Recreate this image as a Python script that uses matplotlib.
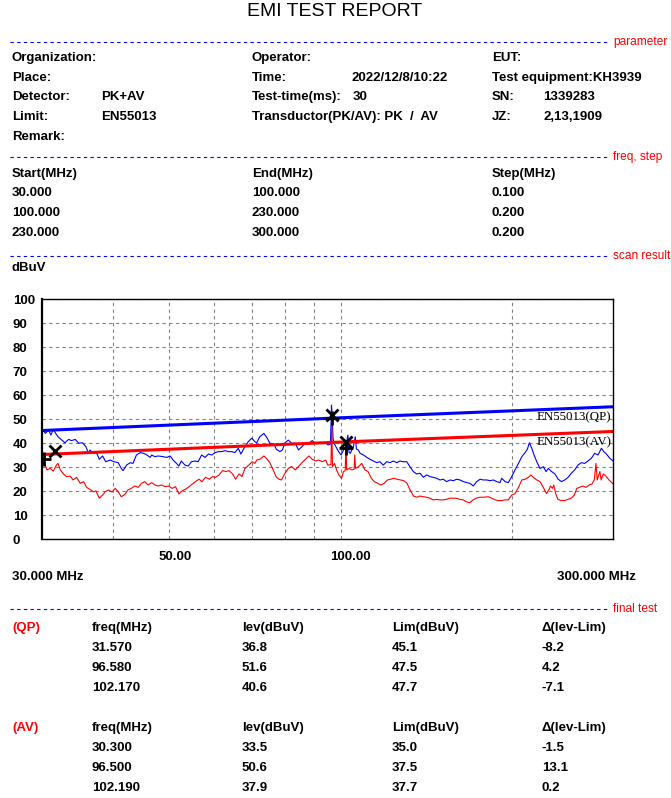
import matplotlib.pyplot as plt
from matplotlib.lines import Line2D
from matplotlib.transforms import ScaledTranslation, blended_transform_factory
from matplotlib.ticker import NullLocator

plt.rcParams['font.family'] = ['Liberation Sans', 'DejaVu Sans']

W, H = 671, 798

# scan result, peak trace (MHz, dBuV)
pk_freq = [30.0, 30.1, 30.4, 30.8, 31.1, 31.4, 31.7, 32.0, 32.5, 32.9, 33.4, 33.8, 34.3, 34.8, 35.3,
           35.8, 36.2, 36.4, 36.9, 37.4, 37.8, 38.3, 38.8, 39.5, 40.1, 40.8, 41.3, 41.6, 42.2, 42.8,
           43.3, 43.9, 44.6, 45.2, 45.8, 46.4, 46.7, 47.3, 47.9, 48.9, 49.6, 50.3, 50.9, 51.6, 52.1,
           52.6, 53.4, 54.1, 54.8, 55.6, 56.3, 57.1, 57.9, 58.7, 59.5, 60.3, 61.1, 61.9, 62.8, 63.6,
           64.5, 65.3, 66.2, 66.9, 68.0, 68.9, 69.9, 70.8, 71.3, 72.2, 73.4, 74.4, 75.2, 76.4, 77.2,
           78.3, 79.1, 79.9, 81.0, 82.1, 83.3, 84.4, 85.6, 86.8, 88.0, 89.2, 90.4, 91.6, 92.9, 94.2,
           95.0, 96.0, 96.4, 96.7, 97.0, 97.4, 98.1, 99.2, 100.2, 101.2, 102.1, 103.0, 103.5, 104.0,
           105.3, 106.1, 106.6, 107.4, 108.2, 109.7, 111.2, 112.6, 114.1, 115.7, 117.2, 118.8, 120.4,
           122.1, 123.7, 125.4, 127.1, 128.8, 130.6, 132.3, 134.1, 135.9, 137.8, 139.6, 141.5, 143.4,
           145.3, 147.3, 149.3, 151.3, 153.4, 155.5, 157.6, 159.7, 161.9, 164.1, 166.3, 168.5, 170.8,
           173.1, 175.5, 177.8, 180.3, 182.7, 185.2, 187.7, 190.2, 191.5, 194.1, 196.7, 199.4, 202.1,
           204.9, 207.7, 210.5, 212.4, 214.1, 216.2, 218.2, 220.6, 223.5, 226.5, 229.0, 231.1, 234.2,
           237.4, 240.5, 243.7, 247.0, 250.3, 253.6, 257.1, 260.5, 264.0, 267.6, 271.2, 274.9, 278.6,
           282.4, 286.3, 289.0, 292.1, 296.3, 300.0]
pk_lev = [46.0, 45.7, 44.0, 45.4, 43.3, 45.7, 44.0, 42.6, 41.2, 40.1, 41.5, 41.0, 41.5, 39.9, 40.1,
          38.5, 35.7, 37.1, 35.7, 35.8, 33.2, 34.6, 32.2, 32.9, 32.2, 31.8, 29.4, 28.5, 30.8, 31.8,
          31.5, 35.0, 36.0, 35.7, 35.0, 34.0, 35.0, 34.3, 34.6, 34.3, 34.0, 34.6, 32.9, 31.5, 30.4,
          32.5, 30.8, 30.4, 32.2, 32.5, 32.2, 35.0, 34.0, 35.4, 35.0, 36.0, 36.4, 36.4, 36.8, 36.4,
          36.4, 36.0, 37.8, 35.4, 38.5, 40.5, 42.0, 40.5, 40.1, 42.6, 44.0, 42.0, 39.9, 39.6, 37.4,
          36.4, 37.1, 40.1, 41.2, 39.9, 39.9, 37.1, 38.5, 40.1, 39.9, 41.0, 39.9, 40.1, 39.9, 40.1,
          39.2, 39.5, 55.8, 51.0, 42.0, 39.9, 38.5, 36.4, 35.0, 37.1, 38.5, 43.3, 36.0, 35.7,
          38.5, 42.6, 37.5, 37.1, 35.7, 35.0, 34.0, 33.2, 32.5, 31.8, 32.2, 30.8, 32.2,
          31.8, 32.5, 31.8, 32.5, 32.2, 32.2, 30.1, 28.1, 27.1, 27.4, 25.7, 26.7, 26.0,
          25.7, 25.3, 24.6, 24.9, 23.9, 24.6, 24.3, 24.9, 24.6, 23.9, 23.5, 23.2, 22.1,
          23.9, 24.9, 24.6, 24.6, 24.3, 24.6, 23.9, 23.5, 25.3, 23.9, 23.5, 26.0, 28.8,
          31.5, 34.3, 36.0, 37.4, 40.1, 37.8, 35.0, 32.2, 29.4, 30.1, 28.1, 29.4, 28.1,
          27.1, 24.9, 23.9, 24.6, 25.7, 27.4, 28.8, 30.8, 31.8, 31.5, 32.5, 33.6, 35.7,
          35.0, 37.8, 36.4, 35.4, 33.6, 32.5]

# scan result, average trace (MHz, dBuV)
av_freq = [30.0, 30.1, 30.4, 30.6, 31.0, 31.4, 31.8, 32.0, 32.3, 32.7, 33.1, 33.6, 34.0, 34.5, 35.0,
           35.5, 35.9, 36.4, 36.9, 37.3, 37.8, 38.3, 38.7, 39.2, 39.8, 40.3, 40.8, 41.3, 41.9, 42.4,
           43.0, 43.6, 44.2, 44.8, 45.4, 46.0, 46.7, 47.3, 47.9, 48.6, 49.3, 50.0, 50.7, 51.4, 52.1,
           52.8, 53.5, 54.3, 55.0, 55.7, 56.5, 57.2, 58.0, 58.9, 59.7, 60.4, 61.3, 62.1, 63.0, 63.8,
           64.7, 65.5, 66.4, 67.2, 68.0, 69.1, 70.0, 70.8, 71.3, 72.2, 73.4, 74.4, 75.2, 76.2, 77.2,
           78.0, 78.8, 79.9, 81.0, 82.1, 83.3, 84.4, 85.6, 86.8, 88.0, 89.2, 90.4, 91.6, 92.9, 94.2,
           95.0, 96.2, 96.5, 96.8, 97.6, 98.4, 99.3, 100.4, 101.2, 101.9, 102.2, 102.5, 103.5, 104.7,
           105.6, 105.9, 106.2, 107.5, 108.9, 110.3, 111.7, 113.2, 114.6, 116.1, 117.7, 119.2, 120.8,
           122.4, 124.0, 125.6, 127.3, 129.0, 130.7, 132.4, 134.2, 136.0, 137.8, 139.6, 141.5, 143.4,
           145.3, 147.2, 149.2, 151.2, 153.2, 155.3, 157.4, 159.5, 161.7, 163.9, 166.1, 168.4, 170.6,
           172.9, 175.2, 177.8, 181.5, 184.0, 186.5, 189.0, 191.5, 194.1, 196.7, 199.4, 202.1, 204.9,
           207.7, 210.5, 213.3, 215.4, 217.6, 220.6, 223.5, 226.5, 229.5, 231.9, 233.1, 235.0, 236.2,
           238.1, 240.3, 243.5, 246.7, 250.0, 253.4, 256.8, 259.2, 262.0, 265.5, 269.1, 272.6, 275.6,
           278.2, 280.1, 281.5, 284.5, 286.0, 288.4, 291.4, 295.2, 298.6, 300.0]
av_lev = [32.5, 31.7, 30.8, 28.8, 29.4, 28.3, 30.8, 31.5, 28.8, 27.1, 26.0, 26.2, 24.6, 25.7, 23.2,
          23.9, 21.5, 20.7, 19.7, 20.0, 17.0, 18.3, 19.7, 20.4, 19.6, 21.1, 19.7, 17.6, 18.6, 20.4,
          21.1, 22.1, 21.5, 23.2, 23.9, 22.5, 23.5, 22.5, 22.1, 22.5, 21.8, 22.1, 21.1, 21.8, 18.8,
          20.1, 20.7, 21.8, 22.9, 23.9, 24.9, 23.9, 25.7, 24.9, 26.0, 25.7, 26.7, 28.5, 28.1, 28.5,
          27.1, 24.9, 27.1, 26.0, 29.4, 30.8, 32.2, 31.5, 32.9, 33.2, 34.6, 33.2, 31.8, 28.8, 25.7,
          24.9, 24.6, 27.4, 29.4, 30.2, 28.8, 30.2, 31.8, 33.2, 34.6, 33.2, 32.5, 32.9, 32.2, 32.9,
          30.8, 31.0, 48.0, 30.2, 31.5, 28.8, 26.7, 25.3, 28.1, 28.5, 39.9, 28.8, 29.4, 28.8,
          29.0, 35.0, 29.4, 30.1, 31.5, 28.8, 28.1, 25.3, 23.9, 23.2, 22.5, 23.2, 24.6,
          24.9, 25.3, 24.9, 24.6, 24.3, 23.2, 20.4, 17.9, 17.4, 17.9, 17.6, 17.4, 17.0,
          16.3, 16.5, 16.3, 16.3, 16.5, 17.0, 17.0, 17.0, 16.5, 16.3, 15.5, 15.1, 16.3,
          17.0, 17.4, 17.4, 17.6, 17.0, 16.3, 16.0, 16.0, 16.3, 16.3, 18.3, 18.9, 21.5,
          24.6, 24.9, 25.7, 26.7, 25.7, 24.6, 23.9, 21.5, 18.9, 20.7, 22.1, 21.1, 22.5,
          18.9, 16.5, 16.0, 16.0, 16.5, 17.0, 18.3, 21.1, 21.5, 22.1, 21.5, 22.5, 22.9,
          24.6, 31.5, 24.6, 28.1, 24.6, 27.1, 26.2, 24.6, 23.5, 23.0]

# EN55013 limit lines
lim_freq = [30, 100, 300]
qp_limit = [45.2, 50.5, 55.1]
av_limit = [35.2, 40.4, 44.8]

# final test
qp_f = [31.570, 96.580, 102.170]
qp_lev = [36.8, 51.6, 40.6]
qp_lim = [45.1, 47.5, 47.7]
qp_delta = [-8.2, 4.2, -7.1]
av_f = [30.300, 96.500, 102.190]
av_lv = [33.5, 50.6, 37.9]
av_lim = [35.0, 37.5, 37.7]
av_delta = [-1.5, 13.1, 0.2]

grid_freq = [40, 50, 60, 70, 80, 90, 100, 200]
freq_labels = [50, 100]

fig = plt.figure(figsize=(W / 100, H / 100), dpi=100)
bold = dict(fontsize=9.5, fontweight='bold', va='center')


def put(x, y, s, **kw):
    fig.text(x / W, 1 - y / H, s, **kw)


def section(y, name):
    fig.add_artist(Line2D([10 / W, 609 / W], [1 - y / H] * 2, color='#0000ff',
                          lw=0.8, ls=(0, (3, 3))))
    put(613, y, name, color='red', fontsize=8.6, va='center')


put(335, 12, 'EMI TEST REPORT', fontsize=14, ha='center', va='center')

section(42, 'parameter')
put(12, 58, 'Organization:', **bold)
put(252, 58, 'Operator:', **bold)
put(492, 58, 'EUT:', **bold)
put(12, 78, 'Place:', **bold)
put(252, 78, 'Time:', **bold)
put(352, 78, '2022/12/8/10:22', **bold)
put(492, 78, 'Test equipment:KH3939', **bold)
put(12, 97, 'Detector:', **bold)
put(101, 97, 'PK+AV', **bold)
put(252, 97, 'Test-time(ms):', **bold)
put(353, 97, '30', **bold)
put(492, 97, 'SN:', **bold)
put(543, 97, '1339283', **bold)
put(12, 117, 'Limit:', **bold)
put(101, 117, 'EN55013', **bold)
put(252, 117, 'Transductor(PK/AV): PK  /  AV', **bold)
put(492, 117, 'JZ:', **bold)
put(543, 117, '2,13,1909', **bold)
put(12, 137, 'Remark:', **bold)

section(157, 'freq, step')
put(12, 174, 'Start(MHz)', **bold)
put(252, 174, 'End(MHz)', **bold)
put(492, 174, 'Step(MHz)', **bold)
for i, (a, b, c) in enumerate([('30.000', '100.000', '0.100'),
                               ('100.000', '230.000', '0.200'),
                               ('230.000', '300.000', '0.200')]):
    y = 193 + 20 * i
    put(12, y, a, **bold)
    put(252, y, b, **bold)
    put(492, y, c, **bold)

section(256, 'scan result')
put(12, 268, 'dBuV', **bold)

# chart
ax = fig.add_axes([42 / W, 1 - 539 / H, 571 / W, 240 / H])
ax.set_xscale('log')
ax.set_xlim(30, 300)
ax.set_ylim(0, 100)
ax.xaxis.set_minor_locator(NullLocator())
ax.set_xticks(grid_freq)
ax.set_xticklabels([])
ax.set_yticks(range(0, 101, 10))
ax.set_yticklabels([str(v) for v in range(0, 101, 10)], fontsize=9.5, fontweight='bold')
for lab in ax.get_yticklabels():
    lab.set_ha('left')
ax.tick_params(length=0)
ax.tick_params(axis='y', pad=21)
ax.grid(True, color='#808080', lw=0.8, ls=(0, (3, 3)))
for side in ['top', 'right', 'bottom']:
    ax.spines[side].set_linewidth(1.0)
ax.spines['left'].set_linewidth(1.6)

ax.plot(pk_freq, pk_lev, color='#0000ff', lw=0.8)
ax.plot(av_freq, av_lev, color='#ff0000', lw=0.8)
ax.plot(lim_freq, qp_limit, color='#0000ff', lw=2.2)
ax.plot(lim_freq, av_limit, color='#ff0000', lw=2.2)
ax.plot(qp_f, qp_lev, 'x', color='black', ms=8, mew=2)
ax.plot(av_f, av_lv, '+', color='black', ms=10, mew=2)

ylab = ax.get_yaxis_transform()
ax.text(0.997, qp_limit[-1] - 4.3, 'EN55013(QP)', transform=ylab, ha='right', va='center',
        family='Liberation Serif', fontsize=9.3)
ax.text(0.997, av_limit[-1] - 4.7, 'EN55013(AV)', transform=ylab, ha='right', va='center',
        family='Liberation Serif', fontsize=9.3)

xlab = blended_transform_factory(ax.transData, ax.transAxes) + \
    ScaledTranslation(-10 / 100, 0, fig.dpi_scale_trans)
for f in freq_labels:
    ax.text(f, -0.075, '%.2f' % f, transform=xlab, ha='left', va='center',
            fontsize=9.5, fontweight='bold')

put(12, 577, '30.000 MHz', **bold)
put(557, 577, '300.000 MHz', **bold)

# final test table
section(609, 'final test')
for y0, tag, fr, lv, lm, dl in [(628, '(QP)', qp_f, qp_lev, qp_lim, qp_delta),
                                (728, '(AV)', av_f, av_lv, av_lim, av_delta)]:
    put(12, y0, tag, color='red', fontsize=9.5, fontweight='bold', va='center')
    put(92, y0, 'freq(MHz)', **bold)
    put(242, y0, 'lev(dBuV)', **bold)
    put(392, y0, 'Lim(dBuV)', **bold)
    put(542, y0, 'Δ(lev-Lim)', **bold)
    for i in range(3):
        y = y0 + 20 * (i + 1)
        put(92, y, '%.3f' % fr[i], **bold)
        put(242, y, '%.1f' % lv[i], **bold)
        put(392, y, '%.1f' % lm[i], **bold)
        put(542, y, '%.1f' % dl[i], **bold)

fig.savefig('out.png', dpi=100)
